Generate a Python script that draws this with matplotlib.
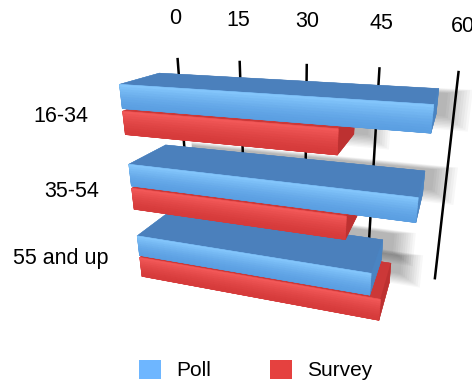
import numpy as np
import matplotlib
matplotlib.use("Agg")
import matplotlib.pyplot as plt
from matplotlib.colors import to_rgb
from matplotlib.patches import Patch
from mpl_toolkits.mplot3d.art3d import Poly3DCollection

# --- data -------------------------------------------------------------
categories = ["16-34", "35-54", "55 and up"]
poll = [57, 56, 49]
survey = [42, 44, 51]
ticks = [0, 15, 30, 45, 60]
series = ["Poll", "Survey"]

# --- scene geometry (value units) ------------------------------------
BAR_H = 4.6        # height of one slab
BAR_GAP = 0.5      # gap between the two slabs of a group
PITCH = 15.75      # vertical distance between groups
BASE = 1.9         # floor -> lowest slab
DEPTH = 14.0       # slab depth
WALL = 22.0        # back wall (gridlines) depth
TOP = 45.0         # wall height

blue = dict(hi="#86c8fd", lo="#5b9fe2", top="#4b80bc",
            end="#4a84c2", left="#5b9ad8")
red = dict(hi="#f45a5a", lo="#d63b3b", top="#cc3838",
           end="#bd3131", left="#d84040")

plt.rcParams["font.family"] = ["Liberation Sans", "DejaVu Sans"]

fig = plt.figure(figsize=(4.72, 3.85), dpi=100)
ax = fig.add_axes([0.196, 0.006, 0.816, 1.0], projection="3d")
ax.set_proj_type("persp", focal_length=0.25)
ax.view_init(elev=21, azim=-72, roll=0)
ax.set_xlim(0, 60)
ax.set_ylim(0, WALL)
ax.set_zlim(0, TOP)
ax.set_box_aspect((60, WALL, TOP), zoom=0.97)
ax.set_axis_off()
ax.computed_zorder = False


def wall_shadow(value, z):
    """Soft shadow of a slab cast down-right onto the back wall."""
    for k in range(10):
        grow = 0.5 * k
        x0, x1 = 2.0, value + 1.5 + grow
        z0, z1 = z - 2.2 - 0.6 * grow, z + BAR_H - 2.2 + 0.2 * grow
        quad = [[(x0, WALL, z0), (x1, WALL, z0), (x1, WALL, z1), (x0, WALL, z1)]]
        ax.add_collection3d(Poly3DCollection(quad, facecolor="#000000",
                                             edgecolor="none", alpha=0.03,
                                             zorder=0.5))


def slab(value, z, pal, zorder):
    faces = [pal["top"], pal["top"], pal["lo"], pal["top"],
             pal["left"], pal["end"]]
    ax.bar3d(0, 0, z, value, DEPTH, BAR_H, color=faces, shade=False,
             edgecolor=faces, linewidth=0.3, zorder=zorder)
    # vertical shading of the front face, light at the top edge
    hi, lo = np.array(to_rgb(pal["hi"])), np.array(to_rgb(pal["lo"]))
    nb = 10
    quads, cols = [], []
    for k in range(nb):
        za, zb = z + BAR_H * k / nb, z + BAR_H * (k + 1) / nb
        quads.append([(0, 0, za), (value, 0, za), (value, 0, zb), (0, 0, zb)])
        t = ((k + 0.5) / nb) ** 1.6
        cols.append(tuple(lo + (hi - lo) * t))
    ax.add_collection3d(Poly3DCollection(quads, facecolors=cols,
                                         edgecolors=cols, linewidths=0.4,
                                         zorder=zorder + 0.5))


n = len(categories)
levels = [BASE + (n - 1 - i) * PITCH for i in range(n)]   # first category on top

for i in range(n):
    wall_shadow(survey[i], levels[i])
    wall_shadow(poll[i], levels[i] + BAR_H + BAR_GAP)

# gridlines on the back wall and their labels
for t in ticks:
    ax.plot([t, t], [WALL, WALL], [0, TOP], color="black", lw=1.8, zorder=1)
    ax.text(t, WALL, TOP + 6.5, str(t), ha="center", va="bottom",
            fontsize=15.5, zorder=1)

for i, cat in enumerate(categories):
    z0 = levels[i]
    zorder = 10 + 2 * (n - i)
    slab(survey[i], z0, red, zorder)
    slab(poll[i], z0 + BAR_H + BAR_GAP, blue, zorder + 1)
    ax.text(-8, 0, z0 + 3.0, cat, ha="right", va="center",
            fontsize=15.5, zorder=30)

handles = [Patch(facecolor="#6eb6ff", edgecolor="none"),
           Patch(facecolor="#e5413f", edgecolor="none")]
fig.legend(handles, series, loc="center", bbox_to_anchor=(0.542, 0.039),
           ncol=2, frameon=False, fontsize=15, handlelength=1.05,
           handleheight=1.05, handletextpad=0.75, columnspacing=2.8,
           borderaxespad=0, borderpad=0)

fig.savefig("out.png", dpi=100)
